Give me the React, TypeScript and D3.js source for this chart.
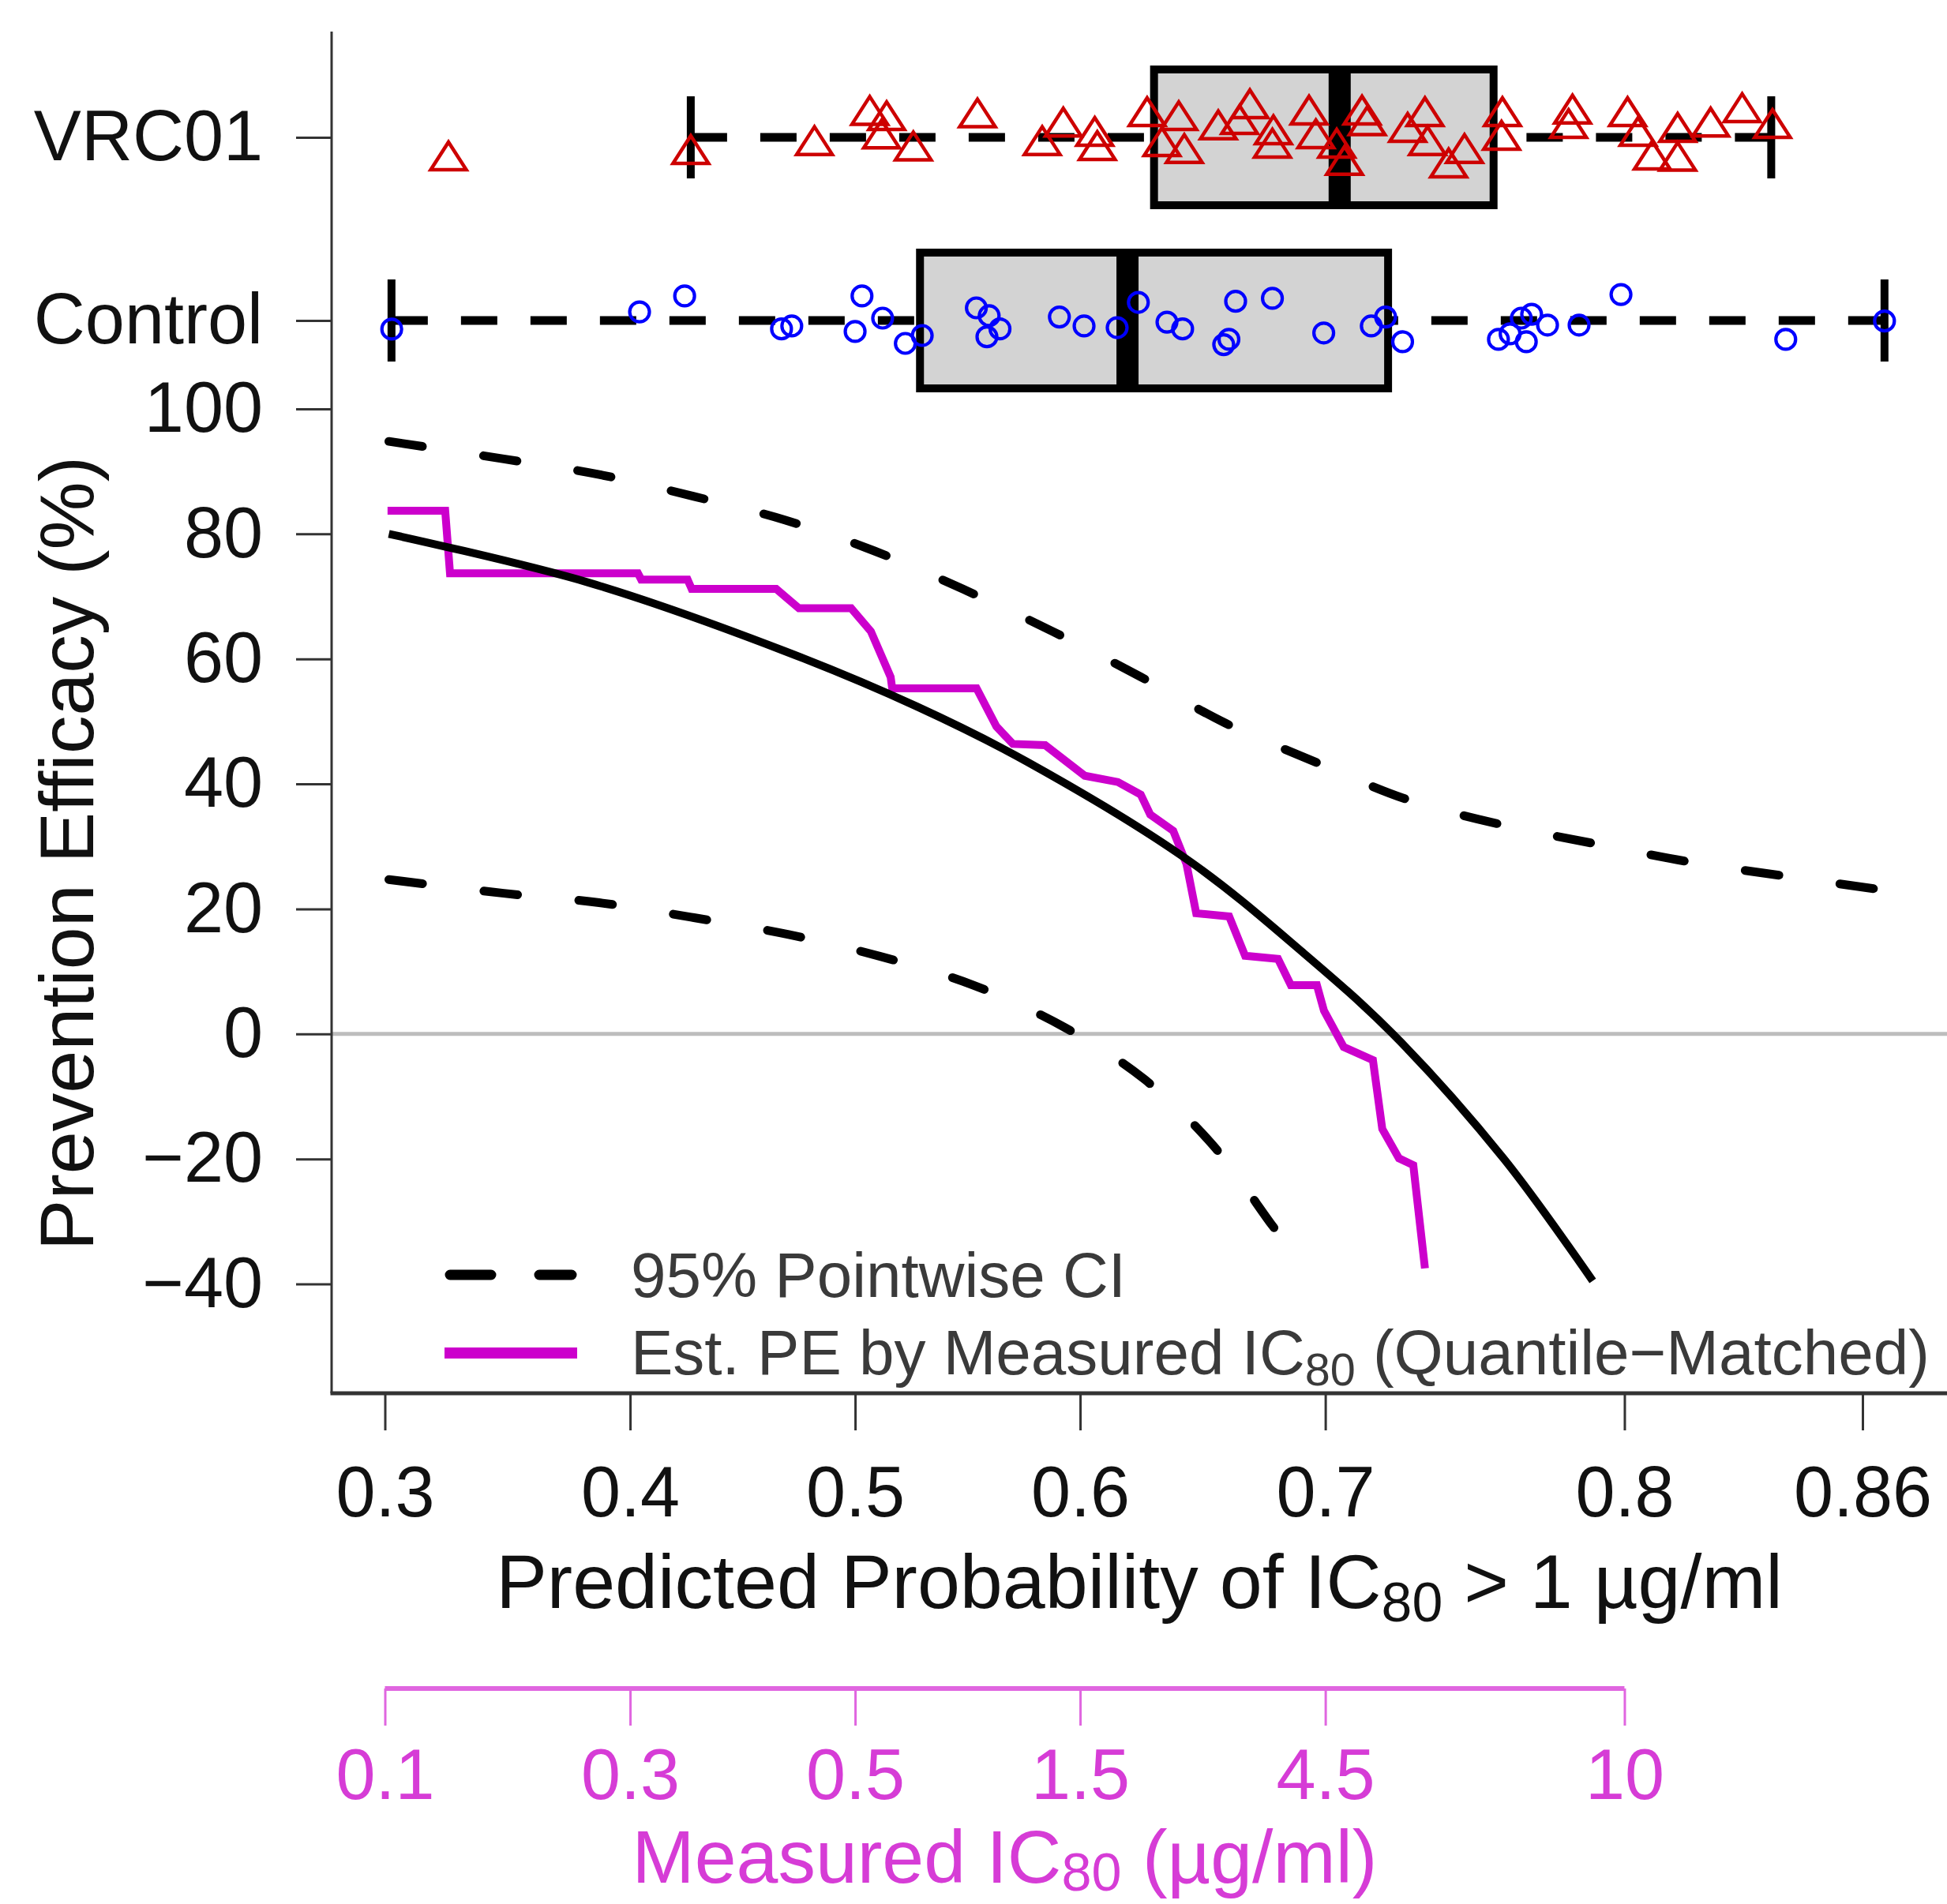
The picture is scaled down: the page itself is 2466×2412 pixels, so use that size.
import React, { useEffect, useRef } from 'react';
import * as d3 from 'd3';

const logit = (p: number) => Math.log(p / (1 - p));

// axis ticks
const probTicks = [0.3, 0.4, 0.5, 0.6, 0.7, 0.8, 0.86];
const probTickLabels = ['0.3', '0.4', '0.5', '0.6', '0.7', '0.8', '0.86'];
const peTicks = [100, 80, 60, 40, 20, 0, -20, -40];
const ic80Ticks = ['0.1', '0.3', '0.5', '1.5', '4.5', '10'];
const ic80TickProbs = [0.3, 0.4, 0.5, 0.6, 0.7, 0.8]; // quantile matched positions
const groups = ['Control', 'VRC01'];

// boxplot stats: lower whisker, Q1, median, Q3, upper whisker
const controlBox = [0.3025, 0.5292, 0.6203, 0.7232, 0.8647];
const vrc01Box = [0.4265, 0.6315, 0.7054, 0.7596, 0.839];

// predicted probabilities with vertical jitter (in row units)
const vrc01Prob = [0.3246, 0.4265, 0.4817, 0.5066, 0.5142, 0.5119, 0.5262, 0.5549, 0.5835, 0.5927, 0.6063, 0.6074, 0.6286, 0.6418, 0.6348, 0.6441, 0.658, 0.6666, 0.6707, 0.68, 0.6796, 0.6938, 0.6964, 0.7043, 0.7072, 0.7137, 0.7156, 0.7302, 0.7363, 0.7372, 0.7445, 0.7499, 0.7625, 0.7622, 0.7846, 0.7834, 0.8009, 0.8039, 0.8079, 0.8149, 0.8149, 0.8237, 0.8318, 0.8393];
const vrc01Jitter = [-0.116, -0.082, -0.033, 0.132, 0.103, 0.003, -0.062, 0.118, -0.033, 0.068, 0.017, -0.06, 0.125, 0.103, -0.039, -0.076, 0.053, 0.082, 0.168, 0.026, -0.047, 0.134, 0.004, -0.047, -0.141, 0.134, 0.075, 0.039, 0.125, -0.033, -0.155, -0.076, 0.125, -0.004, 0.139, 0.06, 0.125, 0.017, -0.112, 0.039, -0.119, 0.068, 0.147, 0.06];
const controlProb = [0.3026, 0.4041, 0.4238, 0.4669, 0.4715, 0.5031, 0.5, 0.5124, 0.5226, 0.5302, 0.5544, 0.5601, 0.5649, 0.5591, 0.591, 0.6017, 0.6159, 0.6249, 0.6369, 0.6434, 0.665, 0.6796, 0.6623, 0.6602, 0.6994, 0.7171, 0.7223, 0.7284, 0.7612, 0.7686, 0.7719, 0.7702, 0.7769, 0.765, 0.7866, 0.799, 0.8425, 0.8647];
const controlJitter = [-0.047, 0.047, 0.134, -0.046, -0.03, 0.134, -0.06, 0.013, -0.125, -0.082, 0.069, 0.026, -0.046, -0.089, 0.019, -0.03, -0.039, 0.099, -0.009, -0.046, 0.105, 0.121, -0.103, -0.132, -0.068, -0.03, 0.019, -0.116, -0.103, 0.013, 0.034, -0.116, -0.025, -0.073, -0.025, 0.142, -0.103, -0.003];

// estimated PE curve and pointwise 95% CI
const peProb = [0.3015, 0.3823, 0.4687, 0.5277, 0.5766, 0.6464, 0.6907, 0.7249, 0.763, 0.7907];
const peEst = [80, 72.2, 61.2, 52.4, 43.6, 27.6, 13.3, 0, -20, -39.5];
const upperProb = [0.3015, 0.3468, 0.3867, 0.4279, 0.4687, 0.5085, 0.5483, 0.588, 0.626, 0.661, 0.6968, 0.7294, 0.762, 0.7926, 0.8192, 0.844, 0.8647];
const upperPE = [94.8, 92.0, 89.5, 86.0, 82.2, 77.3, 71.2, 64.4, 57.1, 49.7, 43.4, 37.6, 33.5, 30.3, 27.4, 25.1, 23.0];
const lowerProb = [0.3015, 0.3468, 0.3867, 0.4279, 0.4701, 0.5114, 0.5531, 0.5935, 0.6273, 0.6558, 0.6791, 0.6843];
const lowerPE = [24.7, 22.5, 21.0, 18.6, 15.9, 12.4, 7.8, 1.0, -7.2, -17.8, -30.4, -33.2];

// est. PE by measured IC80 (quantile matched), step curve vertices
const ic80Prob = [0.301, 0.3233, 0.3252, 0.4034, 0.4048, 0.4251, 0.4269, 0.4645, 0.4747, 0.4982, 0.5071, 0.516, 0.5167, 0.5545, 0.5633, 0.5706, 0.5848, 0.602, 0.6162, 0.6259, 0.6299, 0.6395, 0.645, 0.649, 0.6624, 0.6688, 0.6818, 0.6868, 0.6968, 0.6995, 0.7069, 0.7177, 0.7211, 0.7271, 0.7322, 0.7363];
const ic80PE = [83.7, 83.7, 73.7, 73.7, 72.7, 72.7, 71.2, 71.2, 68.1, 68.1, 64.4, 57.1, 55.3, 55.3, 49.2, 46.4, 46.2, 41.3, 40.3, 38.3, 35.1, 32.5, 27.2, 19.3, 18.8, 12.5, 12.0, 7.8, 7.8, 3.7, -2.1, -4.2, -15.2, -19.9, -21.0, -37.5];

const W = 2466;
const H = 2412;
const FONT = '"Liberation Sans", Arial, Helvetica, sans-serif';
const MAGENTA = '#cc00cc';
const AXIS_MAGENTA = '#d63cd6';
const AXIS_LINE_MAGENTA = '#e066e0';

const App = () => {
  const svgRef = useRef<SVGSVGElement>(null);

  useEffect(() => {
    const svg = d3.select(svgRef.current);
    svg.selectAll('*').remove();
    svg.attr('font-family', FONT);

    const left = 420, right = 2466, top = 40, bottom = 1765;

    const x = d3.scaleLinear().domain([logit(0.3), logit(0.86)]).range([487.5, 2359]);
    const px = (p: number) => x(logit(p));
    const y = d3.scaleLinear().domain([-40, 100]).range([1626.5, 518]);
    const row = d3.scaleLinear().domain([0, 1]).range([406, 174]);

    // zero reference line
    svg.append('line')
      .attr('x1', left).attr('x2', right)
      .attr('y1', y(0)).attr('y2', y(0))
      .attr('stroke', '#bdbdbd').attr('stroke-width', 5);

    const line = (curve: d3.CurveFactory) => d3.line<[number, number]>()
      .x((d) => px(d[0]))
      .y((d) => y(d[1]))
      .curve(curve);

    const zip = (a: number[], b: number[]) => a.map((v, i) => [v, b[i]] as [number, number]);

    // confidence bands
    [zip(upperProb, upperPE), zip(lowerProb, lowerPE)].forEach((pts) => {
      svg.append('path')
        .attr('d', line(d3.curveCatmullRom.alpha(0.5))(pts))
        .attr('fill', 'none')
        .attr('stroke', 'black')
        .attr('stroke-width', 11)
        .attr('stroke-linecap', 'round')
        .attr('stroke-dasharray', '43 78');
    });

    // measured IC80 step curve
    svg.append('path')
      .attr('d', line(d3.curveLinear)(zip(ic80Prob, ic80PE)))
      .attr('fill', 'none')
      .attr('stroke', MAGENTA)
      .attr('stroke-width', 10)
      .attr('stroke-linejoin', 'miter');

    // estimated PE
    svg.append('path')
      .attr('d', line(d3.curveCatmullRom.alpha(0.5))(zip(peProb, peEst)))
      .attr('fill', 'none')
      .attr('stroke', 'black')
      .attr('stroke-width', 10);

    // boxplots
    const boxHalf = 86;
    const drawBox = (stats: number[], level: number) => {
      const cy = row(level);
      const g = svg.append('g');
      [[stats[0], stats[1]], [stats[4], stats[3]]].forEach(([a, b]) => {
        g.append('line')
          .attr('x1', px(a)).attr('x2', px(b))
          .attr('y1', cy).attr('y2', cy)
          .attr('stroke', 'black').attr('stroke-width', 11)
          .attr('stroke-dasharray', '46 42');
        g.append('line')
          .attr('x1', px(a)).attr('x2', px(a))
          .attr('y1', cy - 52).attr('y2', cy + 52)
          .attr('stroke', 'black').attr('stroke-width', 10);
      });
      g.append('rect')
        .attr('x', px(stats[1]))
        .attr('width', px(stats[3]) - px(stats[1]))
        .attr('y', cy - boxHalf)
        .attr('height', boxHalf * 2)
        .attr('fill', '#d3d3d3')
        .attr('stroke', 'black')
        .attr('stroke-width', 10);
      g.append('line')
        .attr('x1', px(stats[2])).attr('x2', px(stats[2]))
        .attr('y1', cy - boxHalf).attr('y2', cy + boxHalf)
        .attr('stroke', 'black').attr('stroke-width', 28);
    };
    drawBox(vrc01Box, 1);
    drawBox(controlBox, 0);

    // jittered points
    svg.append('g')
      .selectAll('circle')
      .data(zip(controlProb, controlJitter))
      .join('circle')
      .attr('cx', (d) => px(d[0]))
      .attr('cy', (d) => row(0 + d[1]))
      .attr('r', 12.5)
      .attr('fill', 'none')
      .attr('stroke', '#0000ff')
      .attr('stroke-width', 4.2);

    svg.append('g')
      .selectAll('path')
      .data(zip(vrc01Prob, vrc01Jitter))
      .join('path')
      .attr('transform', (d) => `translate(${px(d[0])},${row(1 + d[1])})`)
      .attr('d', 'M0,-21L22.5,14L-22.5,14Z')
      .attr('fill', 'none')
      .attr('stroke', '#cd0000')
      .attr('stroke-width', 4.5)
      .attr('stroke-linejoin', 'miter');

    // frame (bty = "l")
    svg.append('line')
      .attr('x1', left).attr('x2', left).attr('y1', top).attr('y2', bottom)
      .attr('stroke', '#333').attr('stroke-width', 3);
    svg.append('line')
      .attr('x1', left - 1.5).attr('x2', right).attr('y1', bottom).attr('y2', bottom)
      .attr('stroke', '#333').attr('stroke-width', 5);

    const styleAxis = (g: d3.Selection<SVGGElement, unknown, null, undefined>, size: number, lineColor: string, textColor: string) => {
      g.select('.domain').remove();
      g.selectAll('.tick line').attr('stroke', lineColor).attr('stroke-width', 3);
      g.selectAll('.tick text').attr('fill', textColor).attr('font-size', size).attr('font-family', FONT);
    };

    // y axis (PE)
    svg.append('g')
      .attr('transform', `translate(${left},0)`)
      .call(d3.axisLeft(y).tickValues(peTicks).tickSize(45).tickPadding(42)
        .tickFormat((d) => ((d as number) < 0 ? `\u2212${-(d as number)}` : `${d}`)))
      .call((g) => styleAxis(g, 90, '#333', '#111'));

    svg.append('g')
      .attr('transform', `translate(${left},0)`)
      .call(d3.axisLeft(row).tickValues([0, 1]).tickSize(45).tickPadding(42)
        .tickFormat((d) => groups[d as number]))
      .call((g) => styleAxis(g, 90, '#333', '#111'));

    // x axis (predicted probability)
    svg.append('g')
      .attr('transform', `translate(0,${bottom + 1})`)
      .call(d3.axisBottom(x).tickValues(probTicks.map(logit)).tickSize(46).tickPadding(45)
        .tickFormat((d, i) => probTickLabels[i]))
      .call((g) => styleAxis(g, 90, '#333', '#111'));

    // secondary axis (measured IC80)
    const axisY = 2139;
    svg.append('line')
      .attr('x1', px(ic80TickProbs[0])).attr('x2', px(ic80TickProbs[ic80TickProbs.length - 1]))
      .attr('y1', axisY).attr('y2', axisY)
      .attr('stroke', AXIS_LINE_MAGENTA).attr('stroke-width', 6);
    svg.append('g')
      .attr('transform', `translate(0,${axisY})`)
      .call(d3.axisBottom(x).tickValues(ic80TickProbs.map(logit)).tickSize(47).tickPadding(29)
        .tickFormat((d, i) => ic80Ticks[i]))
      .call((g) => styleAxis(g, 90, AXIS_LINE_MAGENTA, AXIS_MAGENTA));

    // titles with subscript 80
    const withSub = (t: d3.Selection<SVGTextElement, unknown, null, undefined>, before: string, after: string, drop = 0.24) => {
      t.append('tspan').text(before);
      t.append('tspan').attr('font-size', '72%').attr('dy', `${drop}em`).text('80');
      t.append('tspan').attr('dy', `${-drop * 0.72}em`).text(after);
    };

    const xTitle = svg.append('text')
      .attr('x', (left + right) / 2).attr('y', 2037)
      .attr('text-anchor', 'middle').attr('font-size', 97).attr('fill', '#111');
    withSub(xTitle, 'Predicted Probability of IC', ' > 1 \u00b5g/ml');

    svg.append('text')
      .attr('transform', 'translate(118,1081) rotate(-90)')
      .attr('text-anchor', 'middle').attr('font-size', 97).attr('fill', '#111')
      .text('Prevention Efficacy (%)');

    const ic80Title = svg.append('text')
      .attr('x', (px(ic80TickProbs[0]) + px(ic80TickProbs[ic80TickProbs.length - 1])) / 2).attr('y', 2385)
      .attr('text-anchor', 'middle').attr('font-size', 95).attr('fill', AXIS_MAGENTA);
    withSub(ic80Title, 'Measured IC', ' (\u00b5g/ml)', 0.15);

    // legend
    const lg = svg.append('g');
    lg.append('line')
      .attr('x1', 570).attr('x2', 724).attr('y1', 1615).attr('y2', 1615)
      .attr('stroke', 'black').attr('stroke-width', 13)
      .attr('stroke-linecap', 'round').attr('stroke-dasharray', '52 61');
    lg.append('line')
      .attr('x1', 563).attr('x2', 731).attr('y1', 1714).attr('y2', 1714)
      .attr('stroke', MAGENTA).attr('stroke-width', 14);
    lg.append('text')
      .attr('x', 799).attr('y', 1643).attr('font-size', 80).attr('fill', '#3a3a3a')
      .text('95% Pointwise CI');
    const lt = lg.append('text')
      .attr('x', 799).attr('y', 1741).attr('font-size', 80).attr('fill', '#3a3a3a');
    withSub(lt, 'Est. PE by Measured IC', ' (Quantile\u2212Matched)');
  }, []);

  return (
    <svg
      ref={svgRef}
      width={W}
      height={H}
      style={{ position: 'absolute', left: 0, top: 0, background: '#fff', display: 'block' }}
    />
  );
};

export default App;
